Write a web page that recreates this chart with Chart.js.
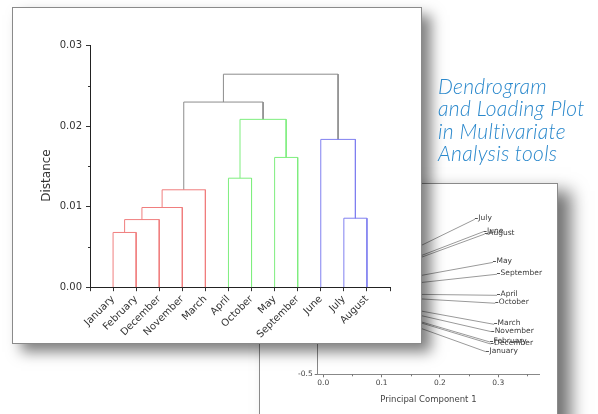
<!DOCTYPE html>
<html>
<head>
<meta charset="utf-8">
<script src="https://cdn.jsdelivr.net/npm/chart.js@4.4.1/dist/chart.umd.min.js"></script>
<style>
  html, body { margin: 0; padding: 0; background: #fff; }
  body { width: 598px; height: 414px; overflow: hidden; position: relative; }
  .panel { position: absolute; box-sizing: border-box; background: #fff; border: 1px solid #8a8a8a; }
  #loadingPanel { left: 259px; top: 183px; width: 299px; height: 260px; box-shadow: 13px 8px 16px rgba(0,0,0,0.55); }
  #dendroPanel { left: 12px; top: 7px; width: 410px; height: 337px; box-shadow: 9px 8px 13px rgba(0,0,0,0.5); }
  .panel canvas { position: absolute; left: 0; top: 0; }
  #caption {
    position: absolute; left: 438px; top: 75px;
    font-family: Lato, "Open Sans", "DejaVu Sans", sans-serif;
    font-style: italic; font-weight: 300; font-size: 21px; line-height: 22.3px;
    letter-spacing: 0.3px;
    color: #2a88cc; white-space: nowrap;
  }
</style>
</head>
<body>
<div class="panel" id="loadingPanel"><canvas id="loading" width="297" height="258"></canvas></div>
<div class="panel" id="dendroPanel"><canvas id="dendro" width="408" height="335"></canvas></div>
<div id="caption">Dendrogram<br>and Loading Plot<br>in Multivariate<br>Analysis tools</div>

<script>
// ---- Dendrogram data (leaf order as drawn) ----
const leaves = ['January', 'February', 'December', 'November', 'March', 'April',
                'October', 'May', 'September', 'June', 'July', 'August'];
// Each merge joins two nodes: ids 0..11 are leaves, merge k creates node 12 + k
const mergePairs = [[0, 1], [12, 2], [13, 3], [14, 4], [5, 6], [7, 8],
                    [16, 17], [15, 18], [10, 11], [9, 20], [19, 21]];
const mergeHeights = [0.0068, 0.0084, 0.0099, 0.0121, 0.01354, 0.01612,
                      0.02085, 0.0230, 0.00857, 0.01836, 0.02646];
const distanceTicks = [0, 0.01, 0.02, 0.03];

// ---- Loading plot data ----
const loadingNames = ['July', 'June', 'August', 'May', 'September', 'April',
                      'October', 'March', 'November', 'February', 'December', 'January'];
const pc1 = [0.260, 0.275, 0.277, 0.291, 0.298, 0.298, 0.295, 0.293, 0.288, 0.286, 0.287, 0.279];
const pc2 = [0.456, 0.380, 0.365, 0.190, 0.117, -0.013, -0.062, -0.192, -0.237, -0.301, -0.313, -0.361];

// link colours per merge (red, green and blue clusters, grey joins)
const RED = '#f07e7e', GREEN = '#7eee7e', BLUE = '#8080f0', GREY = '#8c8c8c';
const linkColors = [RED, RED, RED, RED, GREEN, GREEN, GREEN, GREY, BLUE, BLUE, GREY];

const FONT = '"DejaVu Sans", Verdana, sans-serif';

// Short tick marks between the labelled ones
const minorTicks = {
  id: 'minorTicks',
  afterDraw(chart, args, opts) {
    const { ctx } = chart;
    ctx.save();
    ctx.strokeStyle = opts.color;
    ctx.lineWidth = 1;
    ['x', 'y'].forEach(id => {
      const s = chart.scales[id];
      const step = opts[id];
      if (!step) return;
      s.ticks.forEach(t => {
        const r = t.value / step;
        if (Math.abs(r - Math.round(r)) < 1e-6) return;
        const p = Math.round(s.getPixelForValue(t.value)) + 0.5;
        ctx.beginPath();
        if (id === 'x') { ctx.moveTo(p, s.top); ctx.lineTo(p, s.top + opts.len); }
        else { ctx.moveTo(s.right, p); ctx.lineTo(s.right - opts.len, p); }
        ctx.stroke();
      });
    });
    ctx.restore();
  }
};

function isMultiple(v, step) {
  const r = v / step;
  return Math.abs(r - Math.round(r)) < 1e-6;
}

// ---- Build dendrogram links ----
const nodeX = leaves.map((_, i) => i + 1);
const nodeH = leaves.map(() => 0);
const dendroSets = mergePairs.map(([a, b], k) => {
  const h = mergeHeights[k];
  nodeX.push((nodeX[a] + nodeX[b]) / 2);
  nodeH.push(h);
  return {
    data: [{ x: nodeX[a], y: nodeH[a] }, { x: nodeX[a], y: h },
           { x: nodeX[b], y: h }, { x: nodeX[b], y: nodeH[b] }],
    showLine: true, borderColor: linkColors[k], borderWidth: 1,
    pointRadius: 0, fill: false, tension: 0
  };
});

const axisTitle = {
  id: 'axisTitle',
  afterDraw(chart, args, opts) {
    const { ctx } = chart;
    ctx.save();
    ctx.translate(opts.x, opts.y);
    ctx.rotate(-Math.PI / 2);
    ctx.font = '12px ' + FONT;
    ctx.fillStyle = '#333';
    ctx.textAlign = 'center';
    ctx.textBaseline = 'middle';
    ctx.fillText(opts.text, 0, 0);
    ctx.restore();
  }
};

new Chart(document.getElementById('dendro'), {
  type: 'scatter',
  data: { datasets: dendroSets },
  plugins: [minorTicks, axisTitle],
  options: {
    responsive: false, animation: false, devicePixelRatio: 1,
    layout: { padding: { left: 0, right: 31, top: 37.7, bottom: 0 } },
    plugins: {
      legend: { display: false }, tooltip: { enabled: false },
      minorTicks: { y: 0.01, len: 2, color: '#333' },
      axisTitle: { text: 'Distance', x: 33.7, y: 167.5 }
    },
    scales: {
      x: {
        type: 'linear', min: 0, max: leaves.length + 1,
        afterFit: s => { s.height = 55.8; },
        border: { color: '#222', width: 1 },
        grid: { drawOnChartArea: false, tickLength: 4, color: '#333' },
        ticks: {
          stepSize: 1, autoSkip: false, includeBounds: false,
          minRotation: 45, maxRotation: 45, padding: 2,
          color: '#333', font: { family: FONT, size: 10 },
          callback: v => leaves[v - 1] || ''
        }
      },
      y: {
        min: 0, max: 0.03,
        afterFit: s => { s.width = 77; },
        border: { color: '#222', width: 1 },
        grid: {
          drawOnChartArea: false, tickLength: 4,
          tickColor: c => isMultiple(c.tick.value, 0.01) ? '#333' : 'rgba(0,0,0,0)'
        },
        ticks: {
          stepSize: 0.005, includeBounds: false, padding: 4,
          color: '#333', font: { family: FONT, size: 10 },
          callback: v => distanceTicks.some(d => Math.abs(d - v) < 1e-9) ? v.toFixed(2) : ''
        }
      }
    }
  }
});

// ---- Loading plot ----
const loadingSets = loadingNames.map((n, i) => ({
  label: n,
  data: [{ x: 0, y: 0 }, { x: pc1[i], y: pc2[i] }],
  showLine: true, borderColor: '#9a9a9a', borderWidth: 1,
  pointRadius: 0, fill: false, tension: 0
}));

const endLabels = {
  id: 'endLabels',
  afterDatasetsDraw(chart) {
    const { ctx } = chart;
    ctx.save();
    ctx.font = '7.5px ' + FONT;
    ctx.fillStyle = '#3a3a3a';
    ctx.strokeStyle = '#555';
    ctx.lineWidth = 1;
    ctx.textAlign = 'left';
    ctx.textBaseline = 'alphabetic';
    chart.data.datasets.forEach((ds, i) => {
      const pt = chart.getDatasetMeta(i).data[1];
      ctx.beginPath();
      ctx.moveTo(pt.x, Math.round(pt.y) - 0.5);
      ctx.lineTo(pt.x + 3, Math.round(pt.y) - 0.5);
      ctx.stroke();
      ctx.fillText(ds.label, pt.x + 3.5, pt.y + 1);
    });
    ctx.restore();
  }
};

new Chart(document.getElementById('loading'), {
  type: 'scatter',
  data: { datasets: loadingSets },
  plugins: [minorTicks, endLabels],
  options: {
    responsive: false, animation: false, devicePixelRatio: 1,
    layout: { padding: { left: 0, right: 18, top: 11.9, bottom: 0 } },
    plugins: {
      legend: { display: false }, tooltip: { enabled: false },
      minorTicks: { x: 0.1, len: 2, color: '#777' }
    },
    scales: {
      x: {
        type: 'linear', min: -0.0096, max: 0.37,
        afterFit: s => { s.height = 67.7; },
        border: { color: '#888', width: 1 },
        grid: {
          drawOnChartArea: false, tickLength: 3,
          tickColor: c => isMultiple(c.tick.value, 0.1) ? '#777' : 'rgba(0,0,0,0)'
        },
        ticks: {
          stepSize: 0.05, includeBounds: false, autoSkip: false, maxRotation: 0, padding: 1.5,
          color: '#444', font: { family: FONT, size: 7.5 },
          callback: v => isMultiple(v, 0.1) ? v.toFixed(1) : ''
        },
        title: {
          display: true, text: 'Principal Component 1', color: '#444',
          font: { family: FONT, size: 8.5 }, padding: { top: 0, bottom: 36.9 }
        }
      },
      y: {
        min: -0.5, max: 0.6,
        afterFit: s => { s.width = 57.7; },
        border: { color: '#888', width: 1 },
        grid: { drawOnChartArea: false, tickLength: 3, color: '#777' },
        ticks: {
          stepSize: 0.5, includeBounds: false, padding: 2,
          color: '#444', font: { family: FONT, size: 7.5 },
          callback: v => v.toFixed(1)
        }
      }
    }
  }
});
</script>
</body>
</html>
